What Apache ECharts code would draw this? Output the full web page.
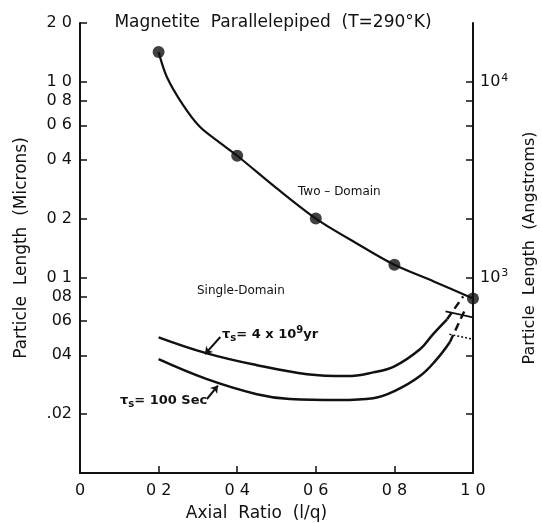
<!DOCTYPE html>
<html>
<head>
<meta charset="utf-8">
<script src="https://cdn.jsdelivr.net/npm/echarts@6/dist/echarts.min.js"></script>
<style>
  html, body { margin: 0; padding: 0; background: #fff; }
  #chart { width: 542px; height: 523px; }
</style>
</head>
<body>
<div id="chart"></div>
<script>
// axial ratio of the plotted two-domain points
const ratioPts = [0.2, 0.4, 0.6, 0.8, 1.0];
const twoDomainPts = [1.42, 0.419, 0.2, 0.116, 0.078];

// two-domain curve read along its length (microns)
const twoDomainX = [0.2, 0.221, 0.262, 0.305, 0.349, 0.4, 0.5, 0.6, 0.7, 0.8, 0.9, 1.0];
const twoDomainY = [1.42, 1.06, 0.763, 0.589, 0.5, 0.419, 0.286, 0.2, 0.151, 0.116, 0.0954, 0.078];

// tau_s = 4x10^9 yr
const yrX = [0.2, 0.323, 0.45, 0.578, 0.68, 0.746, 0.8, 0.865, 0.898, 0.934];
const yrY = [0.0494, 0.0409, 0.0356, 0.032, 0.0313, 0.0327, 0.0351, 0.0429, 0.0512, 0.0611];
const yrDashX = [0.934, 0.975];
const yrDashY = [0.0611, 0.080];

// tau_s = 100 sec
const secX = [0.2, 0.323, 0.45, 0.534, 0.66, 0.746, 0.8, 0.865, 0.908, 0.941];
const secY = [0.0382, 0.0302, 0.0253, 0.0239, 0.0236, 0.0241, 0.0262, 0.0313, 0.0382, 0.0466];
const secDashX = [0.941, 0.98];
const secDashY = [0.0466, 0.0687];

// little hand marks near 1.0
const markAX = [0.93, 1.0];
const markAY = [0.0671, 0.0625];
const markBX = [0.94, 1.0];
const markBY = [0.0512, 0.0483];

// ticks
const xTicks = [0, 0.2, 0.4, 0.6, 0.8, 1.0];
const xTickLabels = ['0', '0 2', '0 4', '0 6', '0 8', '1 0'];
const leftTicks = [2, 1, 0.8, 0.6, 0.4, 0.2, 0.1, 0.08, 0.06, 0.04, 0.02];
const leftTickLabels = ['2 0', '1 0', '0 8', '0 6', '0 4', '0 2', '0 1', '08', '06', '04', '.02'];
const rightTicks = [1, 0.8, 0.6, 0.4, 0.2, 0.1, 0.04, 0.02];   // = 10^4 ... 200 Angstrom
const rightLabelTicks = [1, 0.1];
const rightTickLabels = ['10{sup|4}', '10{sup|3}'];

const FONT = 'DejaVu Sans';
const lg = v => Math.log10(v);
const pairs = (xs, ys) => xs.map((x, i) => [x, lg(ys[i])]);
const pick = (ticks, labels) => val => {
  let best = 0;
  ticks.forEach((t, i) => { if (Math.abs(lg(t) - val) < Math.abs(lg(ticks[best]) - val)) best = i; });
  return labels[best];
};

const black = '#111';

const option = {
  animation: false,
  title: {
    text: 'Magnetite  Parallelepiped  (T=290°K)',
    left: 268, textAlign: 'center',
    top: 9,
    textStyle: { fontFamily: FONT, fontSize: 17, fontWeight: 'normal', color: black }
  },
  grid: { left: 80, top: 23, width: 393, height: 450, outerBoundsMode: 'none', containLabel: false },
  xAxis: {
    type: 'value', min: 0, max: 1, interval: 0.2,
    name: 'Axial  Ratio  (l/q)', nameLocation: 'middle', nameGap: 32,
    nameTextStyle: { fontFamily: FONT, fontSize: 17, color: black, padding: [0, 40, 0, 0] },
    axisLine: { onZero: false, lineStyle: { color: black, width: 2 } },
    axisTick: { inside: true, length: 7, lineStyle: { color: black, width: 1.5 }, customValues: xTicks },
    axisLabel: {
      margin: 10, fontFamily: FONT, fontSize: 16, color: black, customValues: xTicks,
      formatter: v => xTickLabels[xTicks.findIndex(t => Math.abs(t - v) < 1e-6)]
    },
    splitLine: { show: false }
  },
  yAxis: [{
    type: 'value', min: lg(0.01), max: lg(2), position: 'left',
    name: 'Particle  Length  (Microns)', nameLocation: 'middle', nameGap: 50, nameRotate: 90,
    nameTextStyle: { fontFamily: FONT, fontSize: 17, color: black },
    axisLine: { show: true, onZero: false, lineStyle: { color: black, width: 2 } },
    axisTick: { inside: true, length: 7, lineStyle: { color: black, width: 1.5 }, customValues: leftTicks.map(lg) },
    axisLabel: {
      margin: 8, fontFamily: FONT, fontSize: 16, color: black, customValues: leftTicks.map(lg),
      formatter: pick(leftTicks, leftTickLabels)
    },
    splitLine: { show: false }
  }, {
    type: 'value', min: lg(0.01), max: lg(2), position: 'right',
    name: 'Particle  Length  (Angstroms)', nameLocation: 'middle', nameGap: 49, nameRotate: 90,
    nameTextStyle: { fontFamily: FONT, fontSize: 16, color: black },
    axisLine: { show: true, onZero: false, lineStyle: { color: black, width: 2 } },
    axisTick: { inside: true, length: 7, lineStyle: { color: black, width: 1.5 }, customValues: rightTicks.map(lg) },
    axisLabel: {
      margin: 7, fontFamily: FONT, fontSize: 16, color: black, customValues: rightLabelTicks.map(lg),
      formatter: pick(rightLabelTicks, rightTickLabels),
      rich: { sup: { fontFamily: FONT, fontSize: 11, verticalAlign: 'top', padding: [0, 0, 8, 1], color: black } }
    },
    splitLine: { show: false }
  }],
  graphic: [
    { type: 'text', left: 298, top: 186, style: { text: 'Two – Domain', font: '12px "DejaVu Sans"', fill: black } },
    { type: 'text', left: 197, top: 285, style: { text: 'Single-Domain', font: '12px "DejaVu Sans"', fill: black } },
    { type: 'text', left: 222, top: 325, style: {
        text: '{t|τ}{s|s}{t|= 4 x 10}{p|9}{t|yr}', fill: black,
        rich: {
          t: { fontFamily: FONT, fontSize: 13, fontWeight: 'bold', fill: black },
          s: { fontFamily: FONT, fontSize: 10, fontWeight: 'bold', padding: [8, 0, 0, 0], fill: black },
          p: { fontFamily: FONT, fontSize: 10, fontWeight: 'bold', padding: [0, 0, 9, 0], fill: black }
        }
      } },
    { type: 'text', left: 120, top: 394, style: {
        text: '{t|τ}{s|s}{t|= 100 Sec}', fill: black,
        rich: {
          t: { fontFamily: FONT, fontSize: 13, fontWeight: 'bold', fill: black },
          s: { fontFamily: FONT, fontSize: 10, fontWeight: 'bold', padding: [8, 0, 0, 0], fill: black }
        }
      } }
  ],
  series: [
    {
      type: 'line', smooth: 0.3, symbol: 'none',
      lineStyle: { color: black, width: 2.2 },
      data: pairs(twoDomainX, twoDomainY)
    },
    {
      type: 'scatter', symbol: 'circle', symbolSize: 12,
      itemStyle: { color: black },
      data: pairs(ratioPts, twoDomainPts)
    },
    {
      type: 'line', smooth: 0.4, symbol: 'none',
      lineStyle: { color: black, width: 2.5 },
      data: pairs(yrX, yrY),
      markLine: {
        silent: true, symbol: ['none', 'arrow'], symbolSize: 7, label: { show: false },
        lineStyle: { color: black, width: 2, type: 'solid', curveness: 0.35 },
        data: [[{ coord: [0.357, lg(0.0496)] }, { coord: [0.318, lg(0.0405)] }]]
      }
    },
    {
      type: 'line', symbol: 'none',
      lineStyle: { color: black, width: 2.5, type: [8, 5] },
      data: pairs(yrDashX, yrDashY)
    },
    {
      type: 'line', smooth: 0.4, symbol: 'none',
      lineStyle: { color: black, width: 2.5 },
      data: pairs(secX, secY),
      markLine: {
        silent: true, symbol: ['none', 'arrow'], symbolSize: 7, label: { show: false },
        lineStyle: { color: black, width: 2, type: 'solid', curveness: 0.35 },
        data: [[{ coord: [0.323, lg(0.0239)] }, { coord: [0.351, lg(0.0280)] }]]
      }
    },
    {
      type: 'line', symbol: 'none',
      lineStyle: { color: black, width: 2.5, type: [8, 5] },
      data: pairs(secDashX, secDashY)
    },
    {
      type: 'line', symbol: 'none',
      lineStyle: { color: black, width: 1.8 },
      data: pairs(markAX, markAY)
    },
    {
      type: 'line', symbol: 'none',
      lineStyle: { color: black, width: 1.5, type: [2, 2] },
      data: pairs(markBX, markBY)
    }
  ]
};

const chart = echarts.init(document.getElementById('chart'));
chart.setOption(option);
</script>
</body>
</html>
